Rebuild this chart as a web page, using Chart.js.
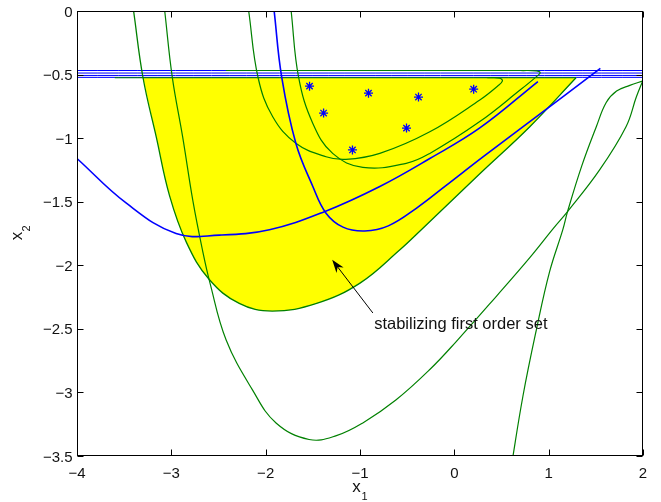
<!DOCTYPE html>
<html>
<head>
<meta charset="utf-8">
<script src="https://cdn.jsdelivr.net/npm/chart.js@4.4.1/dist/chart.umd.min.js"></script>
<style>
  html, body { margin: 0; padding: 0; background: #fff; }
  #plot { display: block; }
</style>
</head>
<body>
<canvas id="plot" width="661" height="502"></canvas>
<script>
// axis ticks
const xTicks = [-4, -3, -2, -1, 0, 1, 2];
const yTicks = [0, -0.5, -1, -1.5, -2, -2.5, -3, -3.5];

// outer green curve, its lower part bounds the yellow set
const outerX = [-3.40, -3.30, -3.16, -3.02, -2.84, -2.60, -2.28, -1.93, -1.46, -1.00, -0.58, -0.35, 0.27, 0.80, 1.29];
const outerY = [0, -0.525, -0.99, -1.45, -1.82, -2.11, -2.30, -2.36, -2.30, -2.14, -1.88, -1.72, -1.28, -0.91, -0.525];

// big green curve (min near -3.37), runs out at the right edge
const bigX = [-3.07, -2.99, -2.88, -2.77, -2.67, -2.59, -2.42, -2.14, -1.89, -1.54, -1.25, -0.97, -0.62, -0.26, 0.02, 0.45, 0.80, 1.05, 1.20, 1.54, 1.82, 1.93, 2.0];
const bigY = [0, -0.52, -0.99, -1.50, -1.88, -2.14, -2.585, -2.98, -3.24, -3.37, -3.34, -3.24, -3.06, -2.82, -2.60, -2.24, -1.94, -1.71, -1.578, -1.25, -0.91, -0.675, -0.544];

// steep green curve at the lower right
const steepX = [0.60, 0.727, 0.87, 1.01, 1.15, 1.20, 1.35, 1.505, 1.61, 1.72, 1.86, 2.0];
const steepY = [-3.6, -3.03, -2.506, -2.05, -1.72, -1.578, -1.22, -0.91, -0.72, -0.63, -0.585, -0.55];

// inner green curves with loops near the top
const loopAX = [-2.18, -2.08, -1.925, -1.68, -1.36, -1.15, -0.79, -0.26, 0.27, 0.46, 0.51, 0.48, 0.35];
const loopAY = [0, -0.525, -0.832, -1.04, -1.146, -1.167, -1.12, -0.95, -0.70, -0.59, -0.55, -0.528, -0.525];
const loopBX = [-1.73, -1.65, -1.50, -1.29, -0.97, -0.51, -0.26, 0.27, 0.70, 0.88, 0.91, 0.87, 0.70];
const loopBY = [0, -0.524, -0.884, -1.12, -1.23, -1.198, -1.12, -0.87, -0.62, -0.51, -0.485, -0.471, -0.468];

// blue curves
const blueSteepX = [-1.91, -1.83, -1.68, -1.50, -1.36, -1.18, -0.95, -0.70, -0.40, -0.10, 0.30, 0.80, 1.548];
const blueSteepY = [0, -0.52, -1.04, -1.38, -1.59, -1.70, -1.73, -1.69, -1.55, -1.38, -1.15, -0.87, -0.452];
const blueBowlX = [-4.0, -3.48, -2.95, -2.49, -1.96, -1.377, -0.79, -0.26, 0.27, 0.886];
const blueBowlY = [-1.16, -1.51, -1.75, -1.763, -1.72, -1.578, -1.38, -1.16, -0.92, -0.555];

// horizontal lines near x2 = -0.5
const blueLevels = [-0.468, -0.488, -0.507, -0.522];
const greenTopX = [-3.6, 1.29];
const greenTopY = [-0.525, -0.525];
const greenTop2X = [-2.42, 0.70];
const greenTop2Y = [-0.468, -0.468];

// stars
const starX = [-1.535, -1.386, -0.91, -0.38, -0.507, -1.08, 0.205];
const starY = [-0.591, -0.803, -0.646, -0.677, -0.921, -1.093, -0.615];

// annotation
const noteText = 'stabilizing first order set';
const noteAt = [-0.85, -2.467];
const arrowFrom = [-0.864, -2.375];
const arrowTo = [-1.295, -1.957];

const BLUE = '#0000ff';
const GREEN = '#008000';
const FONT = '"Liberation Sans", Arial, Helvetica, sans-serif';

const pts = (xs, ys) => xs.map((x, i) => ({x: x, y: ys[i]}));
const fmt = v => String(v).replace('-', '\u2212');

function curve(xs, ys, color, width, order) {
    return {
        data: pts(xs, ys),
        showLine: true,
        borderColor: color,
        borderWidth: width,
        pointRadius: 0,
        tension: 0.4,
        fill: false,
        order: order
    };
}

const datasets = [];

// yellow region
datasets.push({
    data: pts(outerX.slice(1), outerY.slice(1)),
    showLine: true,
    borderWidth: 0,
    borderColor: 'rgba(0,0,0,0)',
    backgroundColor: '#ffff00',
    pointRadius: 0,
    tension: 0.4,
    fill: {value: -0.525},
    order: 10
});

blueLevels.forEach(v => datasets.push(curve([-4, 2], [v, v], BLUE, 1, 6)));
datasets.push(curve(greenTopX, greenTopY, GREEN, 1.2, 5));
datasets.push(curve(greenTop2X, greenTop2Y, GREEN, 1.2, 5));
datasets.push(curve(outerX, outerY, GREEN, 1.3, 4));
datasets.push(curve(bigX, bigY, GREEN, 1.2, 4));
datasets.push(curve(steepX, steepY, GREEN, 1.2, 4));
datasets.push(curve(loopAX, loopAY, GREEN, 1.2, 4));
datasets.push(curve(loopBX, loopBY, GREEN, 1.2, 4));
datasets.push(curve(blueSteepX, blueSteepY, BLUE, 1.6, 3));
datasets.push(curve(blueBowlX, blueBowlY, BLUE, 1.6, 3));
datasets.push({
    data: pts(starX, starY),
    showLine: false,
    pointStyle: 'star',
    pointRadius: 4.5,
    borderColor: BLUE,
    borderWidth: 1.3,
    order: 1
});

// frame, inward ticks, tick labels, arrow and axis labels
const framePlugin = {
    id: 'frame',
    afterDraw(chart) {
        const ctx = chart.ctx;
        const a = chart.chartArea;
        const sx = chart.scales.x, sy = chart.scales.y;
        ctx.save();
        ctx.strokeStyle = '#000';
        ctx.lineWidth = 1;
        const L = Math.round(a.left) + 0.5, R = Math.round(a.right) - 0.5;
        const T = Math.round(a.top) + 0.5, B = Math.round(a.bottom) - 0.5;
        ctx.strokeRect(L, T, R - L, B - T);
        ctx.beginPath();
        xTicks.forEach(v => {
            const p = Math.round(sx.getPixelForValue(v)) + 0.5;
            ctx.moveTo(p, B); ctx.lineTo(p, B - 6);
            ctx.moveTo(p, T); ctx.lineTo(p, T + 6);
        });
        yTicks.forEach(v => {
            const p = Math.round(sy.getPixelForValue(v)) + 0.5;
            ctx.moveTo(L, p); ctx.lineTo(L + 6, p);
            ctx.moveTo(R, p); ctx.lineTo(R - 6, p);
        });
        ctx.stroke();

        // tick labels
        ctx.fillStyle = '#111';
        ctx.font = '15px ' + FONT;
        ctx.textBaseline = 'alphabetic';
        ctx.textAlign = 'center';
        xTicks.forEach(v => ctx.fillText(fmt(v), sx.getPixelForValue(v), a.bottom + 21.5));
        ctx.textAlign = 'right';
        yTicks.forEach(v => ctx.fillText(fmt(v), a.left - 4.5, sy.getPixelForValue(v) + 5.5));

        // arrow
        const x0 = sx.getPixelForValue(arrowFrom[0]), y0 = sy.getPixelForValue(arrowFrom[1]);
        const x1 = sx.getPixelForValue(arrowTo[0]), y1 = sy.getPixelForValue(arrowTo[1]);
        const ang = Math.atan2(y1 - y0, x1 - x0);
        const c = Math.cos(ang), s = Math.sin(ang);
        ctx.beginPath();
        ctx.moveTo(x0, y0);
        ctx.lineTo(x1 - 8 * c, y1 - 8 * s);
        ctx.stroke();
        ctx.fillStyle = '#000';
        ctx.beginPath();
        ctx.moveTo(x1, y1);
        ctx.lineTo(x1 - 13 * c + 4.5 * s, y1 - 13 * s - 4.5 * c);
        ctx.lineTo(x1 - 9 * c, y1 - 9 * s);
        ctx.lineTo(x1 - 13 * c - 4.5 * s, y1 - 13 * s + 4.5 * c);
        ctx.closePath();
        ctx.fill();

        // annotation text
        ctx.fillStyle = '#111';
        ctx.font = '16.5px ' + FONT;
        ctx.textAlign = 'left';
        ctx.textBaseline = 'middle';
        ctx.fillText(noteText, sx.getPixelForValue(noteAt[0]), sy.getPixelForValue(noteAt[1]));

        // x1 label
        const cx = (a.left + a.right) / 2;
        ctx.textBaseline = 'alphabetic';
        ctx.textAlign = 'center';
        ctx.font = '17px ' + FONT;
        ctx.fillText('x', cx - 3.5, 492);
        ctx.font = '11px ' + FONT;
        ctx.fillText('1', cx + 4.5, 500);

        // x2 label
        const cy = (a.top + a.bottom) / 2;
        ctx.translate(22, cy);
        ctx.rotate(-Math.PI / 2);
        ctx.font = '17px ' + FONT;
        ctx.fillText('x', -2.5, 0);
        ctx.font = '11px ' + FONT;
        ctx.fillText('2', 5, 8);
        ctx.restore();
    }
};

new Chart(document.getElementById('plot'), {
    type: 'scatter',
    data: {datasets: datasets},
    options: {
        responsive: false,
        animation: false,
        devicePixelRatio: 1,
        layout: {padding: {top: 11, right: 18, left: 0, bottom: 0}},
        plugins: {legend: {display: false}, tooltip: {enabled: false}},
        scales: {
            x: {
                type: 'linear',
                min: -4, max: 2,
                afterFit: s => { s.height = 46; },
                afterBuildTicks: s => { s.ticks = xTicks.map(v => ({value: v})); },
                grid: {display: false, drawTicks: false},
                border: {display: false},
                ticks: {display: false}
            },
            y: {
                type: 'linear',
                min: -3.5, max: 0,
                afterFit: s => { s.width = 77; },
                afterBuildTicks: s => { s.ticks = yTicks.map(v => ({value: v})); },
                grid: {display: false, drawTicks: false},
                border: {display: false},
                ticks: {display: false}
            }
        }
    },
    plugins: [framePlugin]
});
</script>
</body>
</html>
